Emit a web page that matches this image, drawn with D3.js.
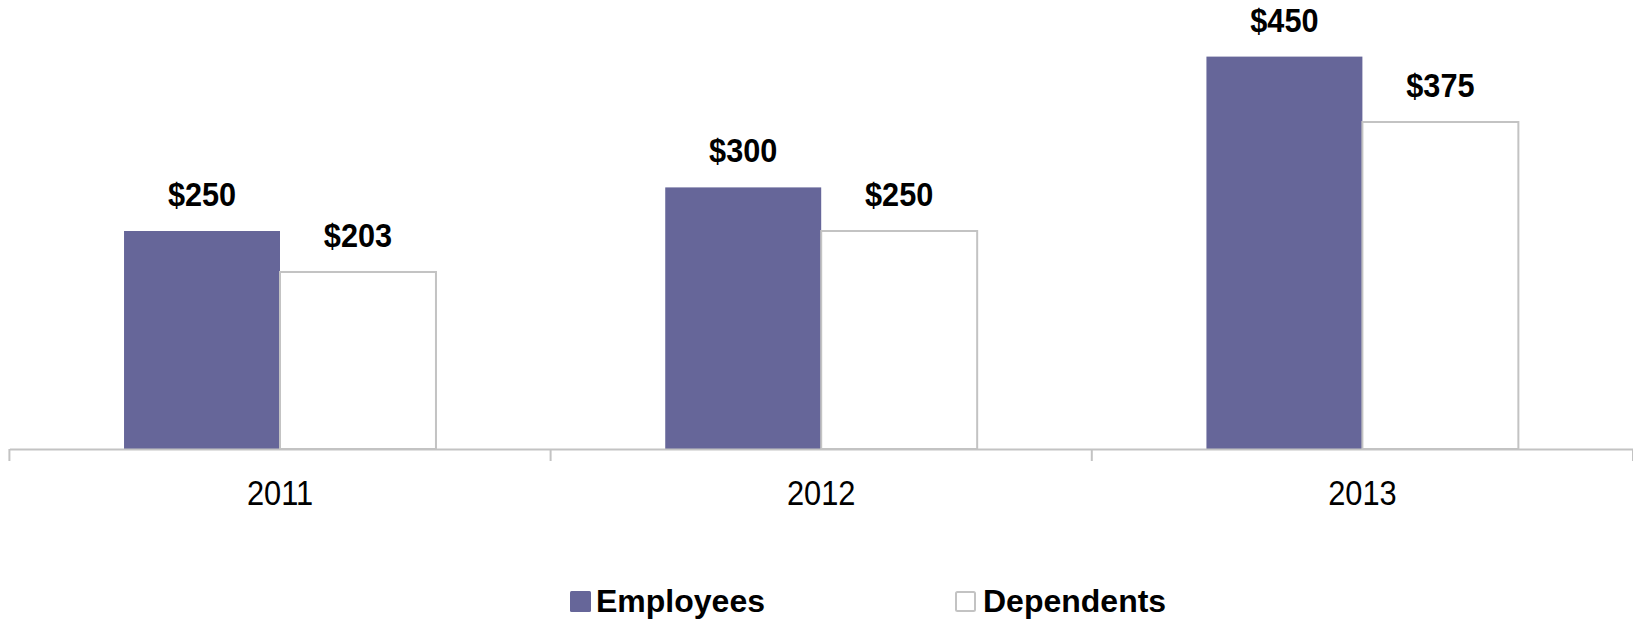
<!DOCTYPE html>
<html>
<head>
<meta charset="utf-8">
<script src="https://cdn.jsdelivr.net/npm/d3@7"></script>
<style>
  html, body { margin: 0; padding: 0; background: #ffffff; }
  svg { display: block; }
</style>
</head>
<body>
<svg id="chart" width="1633" height="620"></svg>
<script>
// Per-member annual cost, by year
const years = ["2011", "2012", "2013"];
const seriesNames = ["Employees", "Dependents"];
const employees = [250, 300, 450];
const dependents = [203, 250, 375];

const W = 1633, H = 620;
const axisY = 449;
const svg = d3.select("#chart");

const colors = { Employees: "#666699", Dependents: "#ffffff" };
const grey = "#c3c3c3";

const x0 = d3.scaleBand().domain(years).range([9.4, W]).padding(0);
const x1 = d3.scaleBand().domain(seriesNames).range([0, x0.bandwidth()])
  .paddingInner(0).paddingOuter(0.735);
const y = d3.scaleLinear().domain([0, 500]).range([axisY, 13]);

const rows = years.map((yr, i) => ({
  year: yr,
  values: [
    { key: "Employees", value: employees[i] },
    { key: "Dependents", value: dependents[i] }
  ]
}));

const groups = svg.append("g").selectAll("g")
  .data(rows).join("g")
  .attr("transform", d => `translate(${x0(d.year)},0)`);

groups.selectAll("rect")
  .data(d => d.values).join("rect")
  .attr("x", d => x1(d.key))
  .attr("y", d => y(d.value))
  .attr("width", x1.bandwidth())
  .attr("height", d => y(0) - y(d.value))
  .attr("fill", d => colors[d.key])
  .attr("stroke", d => d.key === "Dependents" ? grey : "none")
  .attr("stroke-width", 2);

// Value labels above each bar
groups.selectAll("text.val")
  .data(d => d.values).join("text")
  .attr("class", "val")
  .attr("transform", d => `translate(${x1(d.key) + x1.bandwidth() / 2},${y(d.value) - 25}) scale(0.93,1)`)
  .attr("text-anchor", "middle")
  .style("font-family", "'Liberation Sans', Arial, sans-serif")
  .style("font-weight", "bold")
  .style("font-size", "33px")
  .attr("fill", "#000")
  .text(d => "$" + d.value);

// Category axis
const axis = svg.append("g")
  .attr("transform", `translate(0,${axisY})`)
  .call(d3.axisBottom(x0).tickSize(0).tickSizeOuter(0).tickPadding(31));
axis.select(".domain").attr("stroke", grey).attr("stroke-width", 2);
axis.selectAll("text")
  .attr("transform", "scale(0.88,1)")
  .style("font-family", "'Liberation Sans Narrow', 'Liberation Sans', Arial, sans-serif")
  .style("font-size", "35px")
  .attr("fill", "#000");

// Boundary ticks between categories
svg.append("g").selectAll("line")
  .data(years.concat(["end"])).join("line")
  .attr("x1", d => d === "end" ? W : x0(d))
  .attr("x2", d => d === "end" ? W : x0(d))
  .attr("y1", axisY)
  .attr("y2", axisY + 12)
  .attr("stroke", grey)
  .attr("stroke-width", 2);

// Legend
const legendItems = [
  { key: "Employees", sx: 570, tx: 596 },
  { key: "Dependents", sx: 955, tx: 983 }
];
const lg = svg.append("g").selectAll("g").data(legendItems).join("g");
lg.append("rect")
  .attr("x", d => d.key === "Dependents" ? d.sx + 1 : d.sx)
  .attr("y", d => d.key === "Dependents" ? 592 : 591)
  .attr("width", d => d.key === "Dependents" ? 19 : 21)
  .attr("height", d => d.key === "Dependents" ? 19 : 21)
  .attr("rx", 1.5)
  .attr("fill", d => colors[d.key])
  .attr("stroke", d => d.key === "Dependents" ? grey : "none")
  .attr("stroke-width", 2);
lg.append("text")
  .attr("x", d => d.tx)
  .attr("y", 612)
  .style("font-family", "'Liberation Sans', Arial, sans-serif")
  .style("font-weight", "bold")
  .style("font-size", "32px")
  .attr("fill", "#000")
  .text(d => d.key);
</script>
</body>
</html>
